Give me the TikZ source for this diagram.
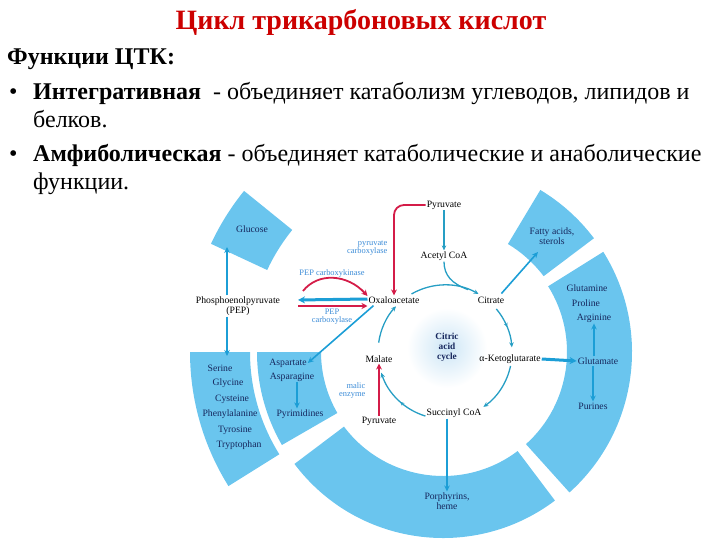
\documentclass[tikz,border=0pt]{standalone}
\usepackage{fontspec}
\setmainfont{Liberation Serif}
\usetikzlibrary{arrows.meta,decorations.markings,calc}
\definecolor{ringc}{RGB}{106,197,238}
\definecolor{cycc}{RGB}{38,158,196}
\definecolor{bluc}{RGB}{28,158,214}
\definecolor{redc}{RGB}{212,28,72}
\definecolor{enzc}{RGB}{60,140,215}
\definecolor{navyc}{RGB}{22,38,92}
\definecolor{titlec}{RGB}{204,0,0}
\newcommand\ringsec[4]{\fill[ringc] ($(RC)+(#1:#3)$) arc[start angle=#1,end angle=#2,radius=#3] -- ($(RC)+(#2:#4)$) arc[start angle=#2,end angle=#1,radius=#4] -- cycle;}
\begin{document}
\begin{tikzpicture}[x=1pt,y=-1pt,
  lab/.style={font=\fontsize{9.7}{8.7}\selectfont, inner sep=1pt, align=center},
  sec/.style={lab, text=navyc},
  enz/.style={font=\fontsize{8.4}{8}\selectfont, text=enzc, inner sep=0.5pt, align=center},
  body/.style={font=\fontsize{24}{28}\selectfont, inner sep=0pt, anchor=base west},
  cyc/.style={draw=cycc, line width=1.3pt},
  cyca/.style={cyc, -{Stealth[length=5pt,width=4.5pt]}},
  midarr/.style={postaction={decorate}, decoration={markings, mark=at position #1 with {\arrow[cycc]{Stealth[length=4pt,width=4pt]}}}},
  barr/.style={draw=bluc, line width=1.6pt, -{Stealth[length=6pt,width=5.5pt]}},
  thk/.style={draw=bluc, line width=3pt, -{Stealth[length=7pt,width=7pt]}},
  rarr/.style={draw=redc, line width=1.8pt, -{Stealth[length=6pt,width=6pt]}}]
\useasboundingbox (0,0) rectangle (720,540);
% header text
\node[font=\fontsize{28}{32}\selectfont\bfseries, text=titlec, anchor=base, inner sep=0pt] (title) at (361,30) {Цикл трикарбоновых кислот};
\node[body, font=\fontsize{24}{28}\selectfont\bfseries] (fh) at (7,65) {Функции ЦТК:};
\node[body] (b1) at (9,100) {•};
\node[body] (l1) at (33,100) {\textbf{Интегративная}\ \ - объединяет катаболизм углеводов, липидов и};
\node[body] (l1b) at (33,128) {белков.};
\node[body] (b2) at (9,162) {•};
\node[body] (l2) at (33,162) {\textbf{Амфиболическая} - объединяет катаболические и анаболические};
\node[body] (l2b) at (33,190) {функции.};
% outer ring sectors
\coordinate (RC) at (443,352);
\ringsec{-155}{-141}{194}{256}
\ringsec{-59}{-37}{126}{189}
\ringsec{-32}{48}{124}{189}
\ringsec{53}{143}{124}{186}
\ringsec{150}{180}{122}{186}
\ringsec{148}{180}{193}{253}
% glow
\shade[inner color={rgb,255:red,205;green,230;blue,246}, outer color=white] (447,348) circle[radius=40];
% labels
\node[lab] (pyrA) at (444,205) {Pyruvate};
\node[lab] (acoa) at (444,256) {Acetyl CoA};
\node[lab] (oaa) at (394,300) {Oxaloacetate};
\node[lab] (cit) at (491,300) {Citrate};
\node[lab] (akg) at (510,359) {α-Ketoglutarate};
\node[lab] (suc) at (454,413) {Succinyl CoA};
\node[lab] (mal) at (379,359) {Malate};
\node[lab] (pyrB) at (379,421) {Pyruvate};
\node[lab] (pep) at (238,306) {Phosphoenolpyruvate\\(PEP)};
\node[sec, font=\fontsize{9.3}{10}\selectfont\bfseries] (tca) at (447,347) {Citric\\acid\\cycle};
\node[sec] (glc) at (252,229) {Glucose};
\node[sec] (fa) at (552,236) {Fatty acids,\\sterols};
\node[sec] (gln) at (587,288) {Glutamine};
\node[sec] (pro) at (586,303) {Proline};
\node[sec] (arg) at (594,318) {Arginine};
\node[sec] (glu) at (598,361) {Glutamate};
\node[sec] (pur) at (593,406) {Purines};
\node[sec] (por) at (447,501) {Porphyrins,\\heme};
\node[sec] (ser) at (220,368) {Serine};
\node[sec] (gly) at (228,383) {Glycine};
\node[sec] (cys) at (232,399) {Cysteine};
\node[sec] (phe) at (230,414) {Phenylalanine};
\node[sec] (tyr) at (235,430) {Tyrosine};
\node[sec] (trp) at (239,445) {Tryptophan};
\node[sec] (asp) at (288,363) {Aspartate};
\node[sec] (asn) at (292,377) {Asparagine};
\node[sec] (pyrim) at (300,414) {Pyrimidines};
% enzymes
\node[enz, anchor=east, align=right] (pc) at (388,248) {pyruvate\\carboxylase};
\node[enz] (pepck) at (332,273) {PEP carboxykinase};
\node[enz] (pepc) at (332,317) {PEP\\carboxylase};
\node[enz, anchor=east, align=right] (me) at (366,390) {malic\\enzyme};
% citric acid cycle
\coordinate (TC) at (445,352);
\draw[cyc] (acoa.south) .. controls ($(acoa.south)+(0,14)$) and ($(acoa.south)+(8,22)$) .. ($(acoa.south)+(24,28)$);
\draw[cyca] ($(TC)+(-120:67)$) arc[start angle=-120,end angle=-60,radius=67];
\draw[cyca, midarr=0.5] ($(TC)+(-40:67)$) arc[start angle=-40,end angle=-4,radius=67];
\draw[cyca] ($(TC)+(12:67)$) arc[start angle=12,end angle=55,radius=67];
\draw[cyca, midarr=0.45] ($(TC)+(107:67)$) arc[start angle=107,end angle=162,radius=67];
\draw[cyca] ($(TC)+(-172:67)$) arc[start angle=-172,end angle=-137,radius=67];
% connectors
\draw[cyca] (pyrA) -- (acoa);
\draw[rarr, rounded corners=10pt] (pyrA.west) -| (oaa.north);
\draw[barr] ($(cit.north east)+(-4,-2)$) -- ($(fa)+(-14,16)$);
\draw[thk] (akg.east) -- (glu.west);
\draw[barr] (glu.north -| arg.south) -- (arg.south);
\draw[barr] (glu.south -| pur.north) -- (pur.north);
\draw[barr] (suc.south -| por.north) -- (por.north);
\draw[barr] ($(oaa.south west)+(6,1)$) -- (asp.east);
\draw[barr] ([xshift=5pt]asn.south) -- ([xshift=-3pt]pyrim.north);
\draw[rarr] (pyrB) -- (mal);
\coordinate (pepR) at (298,300);
\coordinate (pepR2) at (298,306);
\draw[thk] ([yshift=1pt]oaa.west) -- (pepR);
\draw[rarr] (pepR2) -- (pepR2 -| oaa.west);
\draw[rarr] ($(pepR)+(5,-9)$) .. controls ($(pepR)+(20,-28)$) and ($(oaa.west)+(-20,-26)$) .. ([yshift=4pt]oaa.west);
\coordinate (glcE) at (227,247);
\coordinate (serE) at (227,356);
\draw[barr] ($(pep.north)+(-11,0)$) -- (glcE);
\draw[barr] ($(pep.south)+(-11,0)$) -- (serE);
\end{tikzpicture}
\end{document}
